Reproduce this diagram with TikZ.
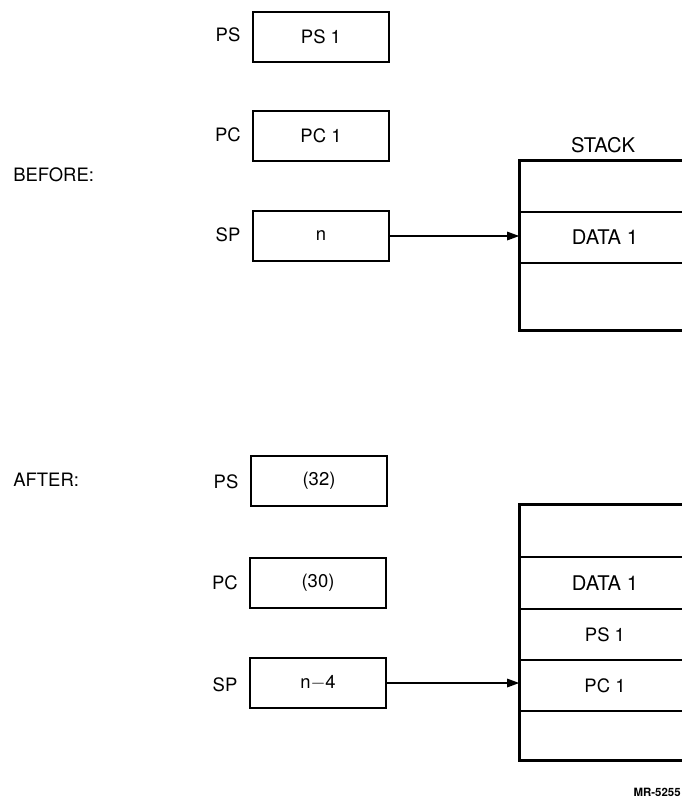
\documentclass[tikz,border=0pt]{standalone}
\usepackage{fontspec}
\setmainfont{TeX Gyre Heros}
\usepackage{tikz}
\usetikzlibrary{positioning,arrows.meta}

\begin{document}
\begin{tikzpicture}[x=0.2mm, y=-0.2mm, font=\fontsize{10.5}{12}\selectfont, >={Triangle[length=2.4mm, width=1.7mm]},
  reg/.style={draw, line width=1.5pt, minimum width=27.2mm, minimum height=10mm, inner sep=0pt},
  cell/.style={draw, line width=0.9pt, minimum width=34mm, inner sep=0pt},
  big/.style={font=\fontsize{11.5}{13}\selectfont},
  lbl/.style={anchor=center, inner sep=0pt}]
\useasboundingbox (0,0) rectangle (682,800);
% before
\node[lbl, anchor=west] (before) at (13,175) {BEFORE:};
\node[reg] (psB) at (321,37) {PS 1};
\node[reg] (pcB) at (321,136) {PC 1};
\node[reg] (spB) at (321,236) {n};
\node[lbl] (psBl) at (228,35) {PS};
\node[lbl] (pcBl) at (228,135) {PC};
\node[lbl] (spBl) at (228,235) {SP};
\node[cell, minimum height=10.2mm] (sB1) at (605,186.5) {};
\node[cell, big, minimum height=10.2mm] (sB2) at (605,237.5) {DATA 1};
\node[cell, minimum height=13.4mm] (sB3) at (605,296.5) {};
\draw[line width=1.5pt] (sB1.north east) -- (sB1.north west) -- (sB3.south west) -- (sB3.south east);
\node[lbl, big] (stack) at (603,145) {STACK};
\draw[->, line width=0.8pt] (spB.east) -- (spB.east -| sB2.west);
% after
\node[lbl, anchor=west] (after) at (13,480) {AFTER:};
\node[reg] (psA) at (319,481) {(32)};
\node[reg] (pcA) at (318,583) {(30)};
\node[reg] (spA) at (318,683) {n$-$4};
\node[lbl] (psAl) at (226,482) {PS};
\node[lbl] (pcAl) at (225,583) {PC};
\node[lbl] (spAl) at (225,685) {SP};
\node[cell, minimum height=10.4mm] (sA1) at (605,531) {};
\node[cell, big, minimum height=10.4mm] (sA2) at (605,583) {DATA 1};
\node[cell, minimum height=10.2mm] (sA3) at (605,634.5) {PS 1};
\node[cell, minimum height=10.2mm] (sA4) at (605,685.5) {PC 1};
\node[cell, minimum height=9.8mm] (sA5) at (605,735.5) {};
\draw[line width=1.5pt] (sA1.north east) -- (sA1.north west) -- (sA5.south west) -- (sA5.south east);
\draw[->, line width=0.8pt] (spA.east) -- (spA.east -| sA4.west);
\node[lbl, anchor=east, font=\fontsize{6.5}{8}\selectfont\bfseries] (mr) at (681,792) {MR-5255};
\end{tikzpicture}
\end{document}
